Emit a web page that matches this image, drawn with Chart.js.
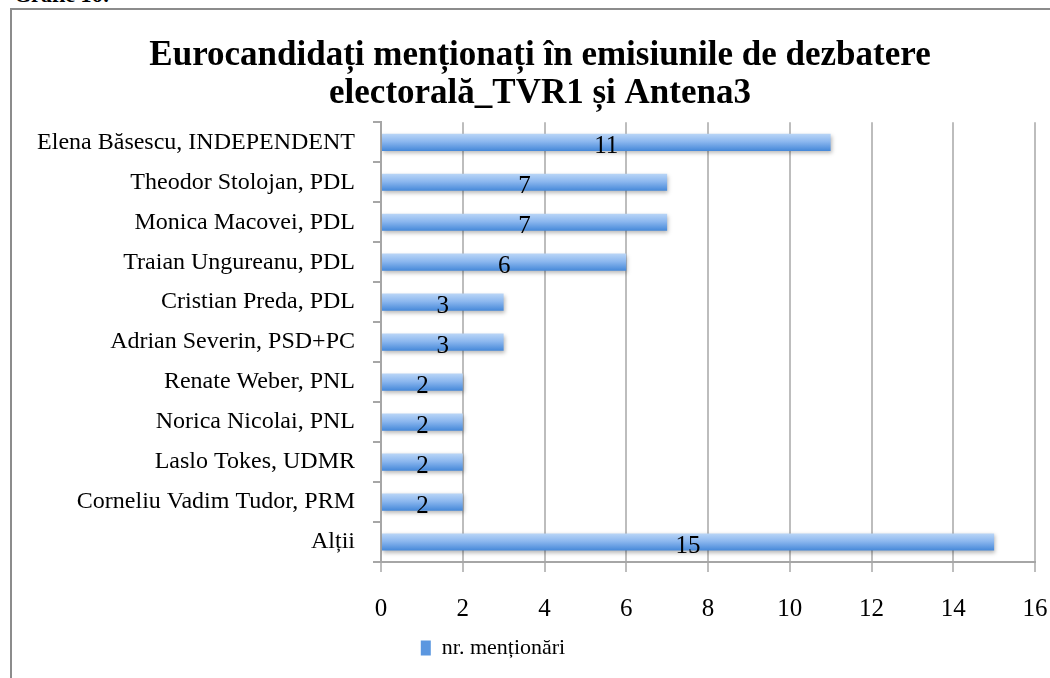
<!DOCTYPE html>
<html>
<head>
<meta charset="utf-8">
<script src="https://cdn.jsdelivr.net/npm/chart.js@4"></script>
<style>
  html, body { margin: 0; padding: 0; background: #fff; width: 1050px; height: 678px; overflow: hidden; }
  #frame { position: absolute; left: 10px; top: 8px; width: 1200px; height: 800px; border-left: 2px solid #8c8c8c; border-top: 2px solid #8c8c8c; }
  #cap { position: absolute; left: 14px; top: -18px; font: bold 22px 'Liberation Serif', serif; color: #000; }
  #c { position: absolute; left: 0; top: 0; }
</style>
</head>
<body>
<div id="cap">Grafic 16:</div>
<div id="frame"></div>
<canvas id="c" width="1050" height="678"></canvas>
<script>
const categories = [
  'Elena Băsescu, INDEPENDENT',
  'Theodor Stolojan, PDL',
  'Monica Macovei, PDL',
  'Traian Ungureanu, PDL',
  'Cristian Preda, PDL',
  'Adrian Severin, PSD+PC',
  'Renate Weber, PNL',
  'Norica Nicolai, PNL',
  'Laslo Tokes, UDMR',
  'Corneliu Vadim Tudor, PRM',
  'Alții'
];
const mentions = [11, 7, 7, 6, 3, 3, 2, 2, 2, 2, 15];
const seriesName = 'nr. menționări';
const titleLines = ['Eurocandidați menționați în emisiunile de dezbatere', 'electorală_TVR1 și Antena3'];
const xMin = 0, xMax = 16, xStep = 2;

const SERIF = "'Liberation Serif', 'Times New Roman', serif";

function barGradient(ctx) {
  const chart = ctx.chart;
  const y = chart.scales && chart.scales.y;
  if (!chart.chartArea || !y || ctx.dataIndex === undefined) return '#6fa3e6';
  const c = y.getPixelForValue(ctx.dataIndex);
  const g = chart.ctx.createLinearGradient(0, c - 9, 0, c + 9);
  g.addColorStop(0, '#bcd7f7');
  g.addColorStop(0.45, '#8db8ef');
  g.addColorStop(1, '#4286d8');
  return g;
}

const shiftPlugin = {
  id: 'shiftBoxes',
  afterLayout(chart) {
    const t = chart.titleBlock;
    if (t) { const d = 540 - (t.left + t.right) / 2; t.left += d; t.right += d; }
    const l = chart.legend;
    if (l) { const d = 493 - (l.left + l.right) / 2; l.left += d; l.right += d; }
  }
};

const labelPlugin = {
  id: 'valueLabels',
  beforeDatasetsDraw(chart) {
    const ctx = chart.ctx;
    ctx.save();
    ctx.shadowColor = 'rgba(0,0,0,0.28)';
    ctx.shadowBlur = 4;
    ctx.shadowOffsetX = 1;
    ctx.shadowOffsetY = 2;
  },
  afterDatasetsDraw(chart) {
    const ctx = chart.ctx;
    ctx.restore();
    ctx.save();
    ctx.font = '25px ' + SERIF;
    ctx.fillStyle = '#000';
    ctx.textAlign = 'center';
    ctx.textBaseline = 'middle';
    const meta = chart.getDatasetMeta(0);
    meta.data.forEach((bar, i) => {
      const p = bar.getProps(['x', 'y', 'base'], true);
      ctx.fillText(String(chart.data.datasets[0].data[i]), (p.x + p.base) / 2, p.y + 4);
    });
    ctx.restore();
  }
};

new Chart(document.getElementById('c'), {
  type: 'bar',
  data: {
    labels: categories,
    datasets: [{
      label: seriesName,
      data: mentions,
      backgroundColor: barGradient,
      borderWidth: 0,
      barPercentage: 0.43,
      categoryPercentage: 1.0
    }]
  },
  plugins: [shiftPlugin, labelPlugin],
  options: {
    indexAxis: 'y',
    responsive: false,
    animation: false,
    layout: { padding: { left: 0, right: 15, top: 0, bottom: 9 } },
    scales: {
      x: {
        min: xMin, max: xMax,
        afterFit(scale) { scale.height = 59; scale.paddingLeft = 0; scale.paddingRight = 0; },
        ticks: { stepSize: xStep, color: '#000', font: { family: SERIF, size: 25, lineHeight: 1 }, padding: 25 },
        grid: { color: '#bdbdbd', lineWidth: 2, tickLength: 10, drawTicks: true },
        border: { display: true, color: '#a6a6a6', width: 2 }
      },
      y: {
        afterFit(scale) { scale.width = 381; },
        ticks: { color: '#000', font: { family: SERIF, size: 24 }, padding: 18 },
        grid: { drawOnChartArea: false, drawTicks: true, tickLength: 8, color: '#a6a6a6', lineWidth: 2, offset: true },
        border: { display: true, color: '#a6a6a6', width: 2 }
      }
    },
    plugins: {
      title: {
        display: true,
        text: titleLines,
        color: '#000',
        font: { family: SERIF, size: 35, weight: 'bold', lineHeight: 1.09 },
        padding: { top: 37, bottom: 9 }
      },
      legend: {
        display: true,
        position: 'bottom',
        labels: {
          color: '#000',
          font: { family: SERIF, size: 22 },
          boxWidth: 10,
          boxHeight: 15,
          padding: 16,
          generateLabels(chart) {
            return Chart.defaults.plugins.legend.labels.generateLabels(chart).map(it => Object.assign(it, { fillStyle: '#5b97e0', strokeStyle: '#5b97e0', lineWidth: 0 }));
          }
        }
      },
      tooltip: { enabled: false }
    }
  }
});
</script>
</body>
</html>
